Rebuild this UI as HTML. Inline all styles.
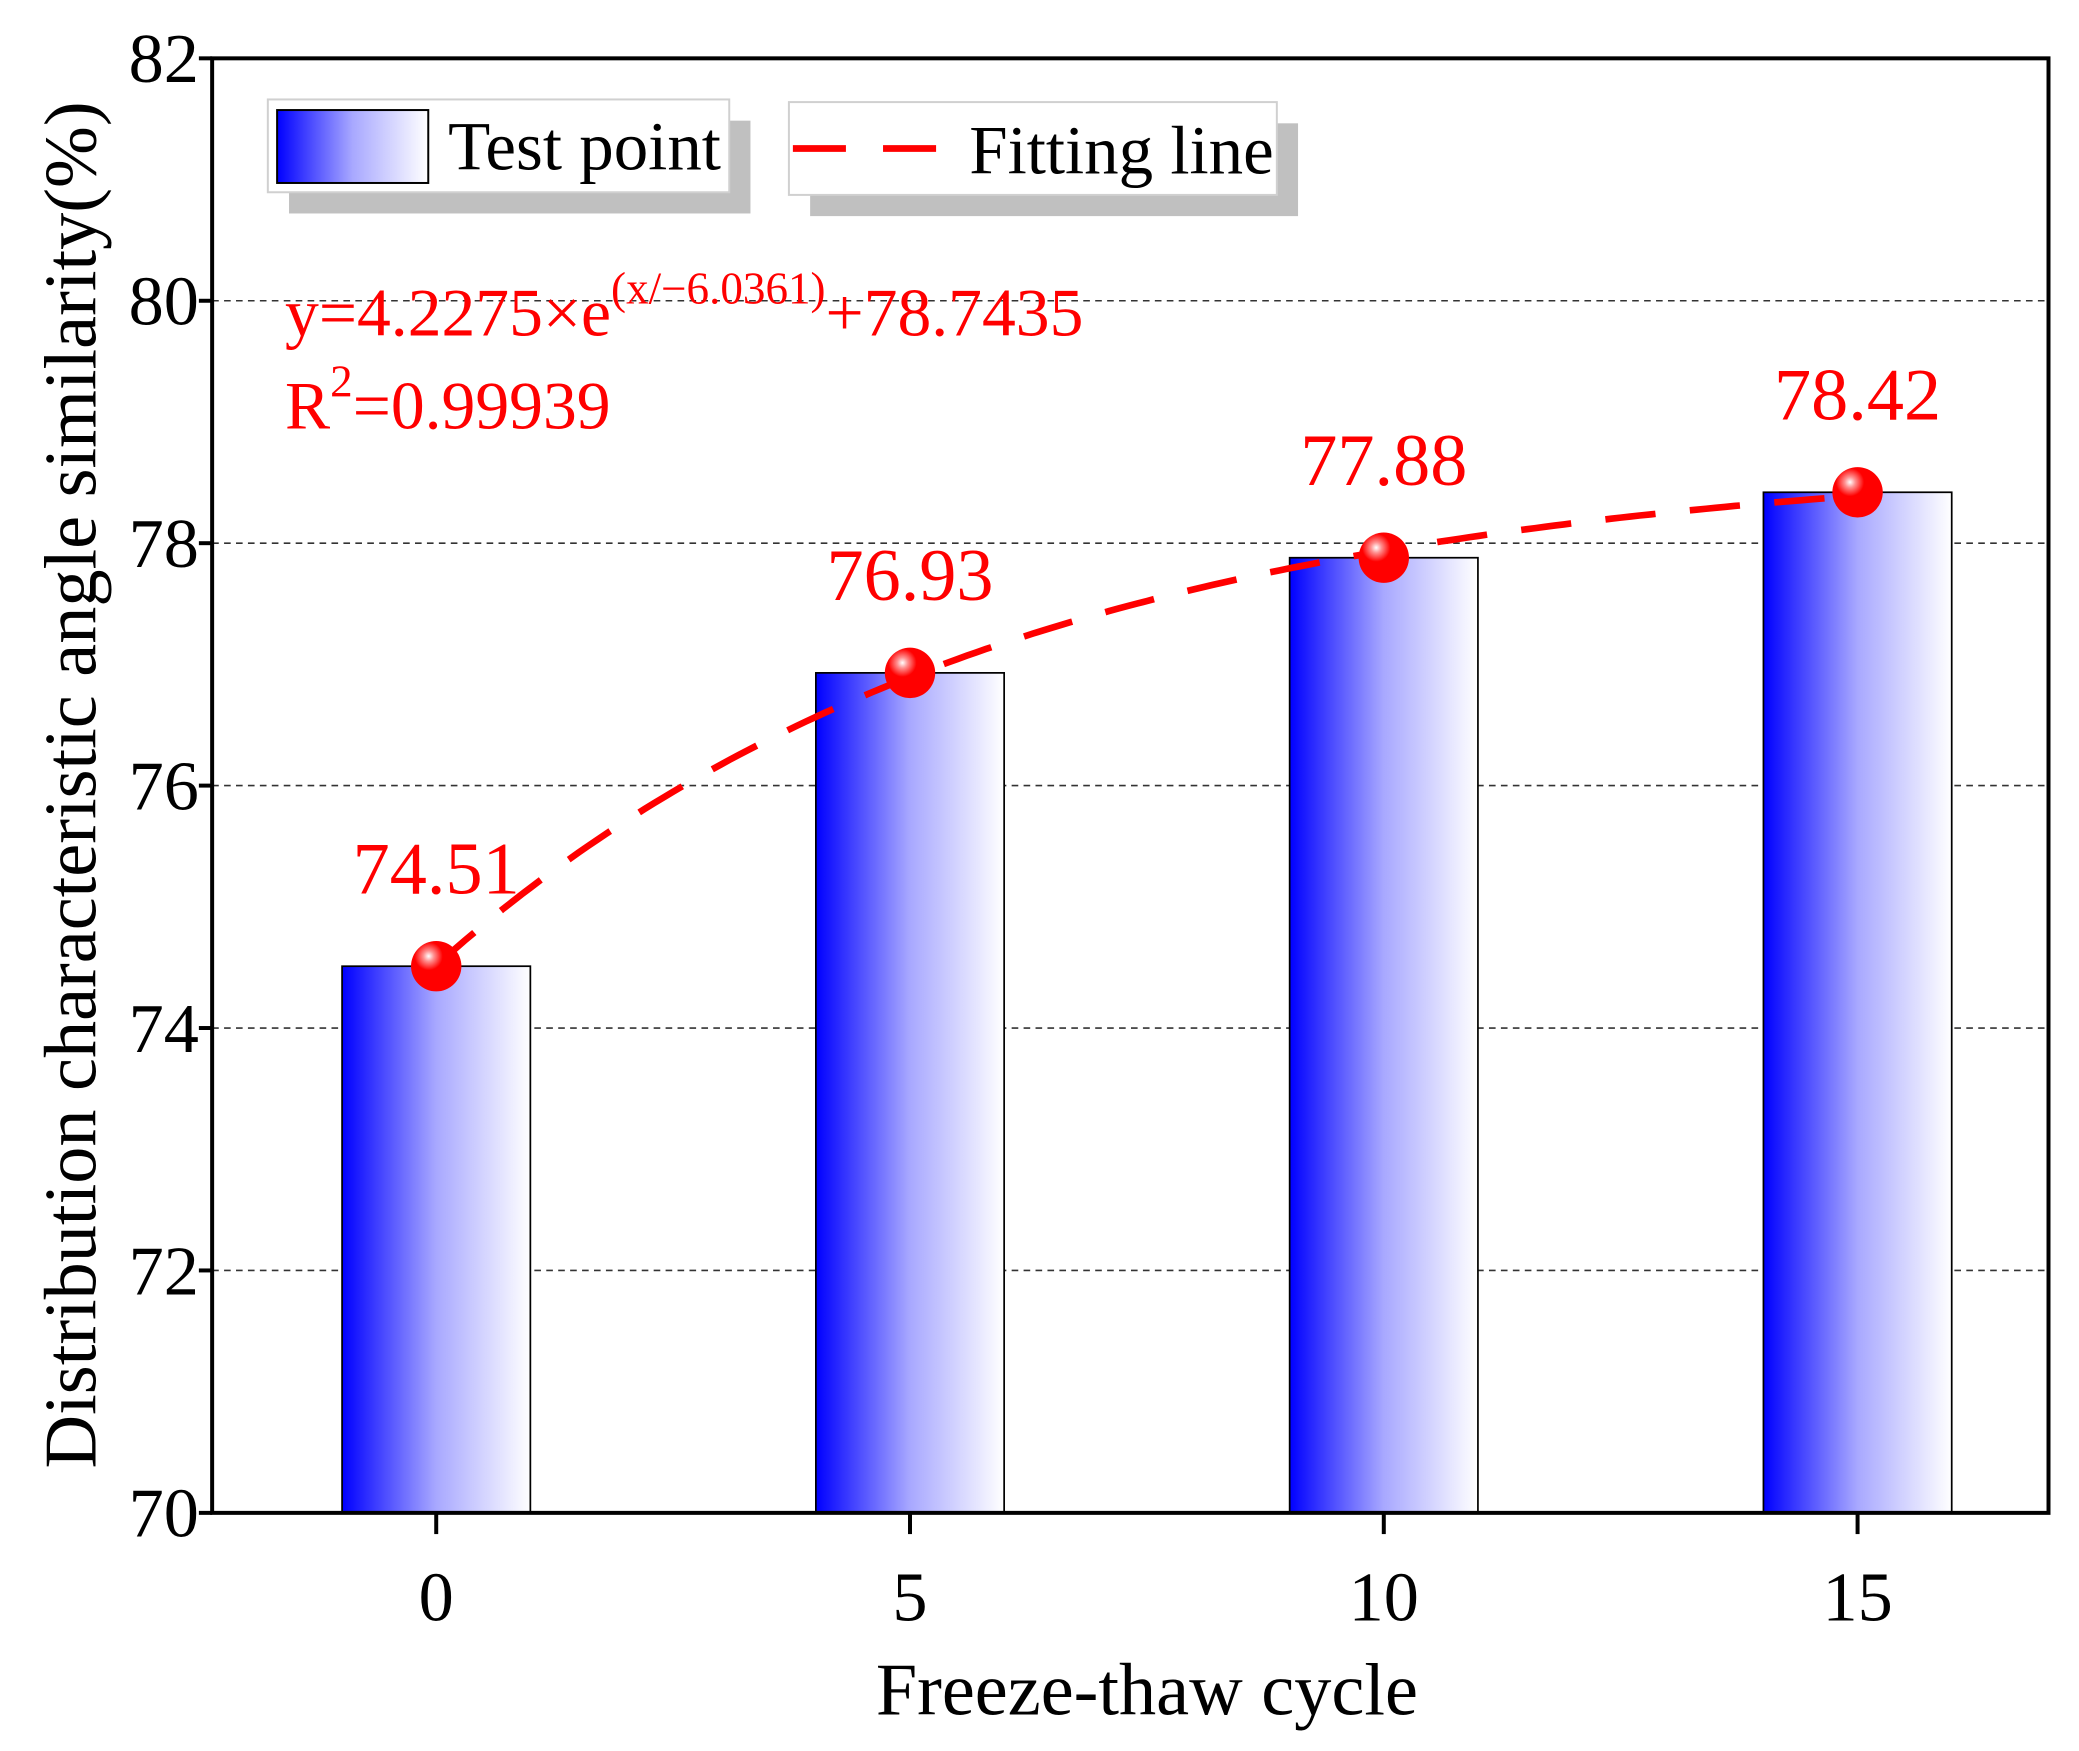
<!DOCTYPE html>
<html><head><meta charset="utf-8"><style>
html,body{margin:0;padding:0;background:#fff;}
svg{display:block;font-family:"Liberation Serif",serif;}
</style></head><body>
<svg id="chart" width="2079" height="1751" viewBox="0 0 1568 1320.6" preserveAspectRatio="none" xmlns="http://www.w3.org/2000/svg">
<defs>
<linearGradient id="barGrad" x1="0" y1="0" x2="1" y2="0">
<stop offset="0" stop-color="#0000ff"/><stop offset="0.5" stop-color="#a8a8ff"/><stop offset="1" stop-color="#ffffff"/>
</linearGradient>
<radialGradient id="ptGrad" cx="0.35" cy="0.3" r="0.7">
<stop offset="0" stop-color="#ffffff"/><stop offset="0.15" stop-color="#ff9090"/><stop offset="0.4" stop-color="#ff0000"/><stop offset="1" stop-color="#ff0000"/>
</radialGradient>
</defs>
<g id="grid"></g>
<g id="bars"></g>
<g id="fit"></g>
<g id="pts"></g>
<g id="labels"></g>
<rect x="160" y="44" width="1385" height="1097" fill="none" stroke="#000" stroke-width="3"/>
<g id="axes"></g>
<text x="865" y="1293" font-size="56" text-anchor="middle">Freeze-thaw cycle</text>
<text transform="translate(72,592) rotate(-90)" font-size="56" text-anchor="middle">Distribution characteristic angle similarity(%)</text>
<g fill="#ff0000">
<text x="215" y="253" font-size="51">y=4.2275×e<tspan font-size="34" dy="-24">(x/−6.0361)</tspan><tspan dy="24">+78.7435</tspan></text>
<text x="215" y="323" font-size="51">R<tspan font-size="34" dy="-24">2</tspan><tspan dy="24">=0.99939</tspan></text>
</g>
<g>
<rect x="218" y="91" width="348" height="70" fill="#c0c0c0"/>
<rect x="202" y="75" width="348" height="70" fill="#fff" stroke="#d0d0d0" stroke-width="1.5"/>
<rect x="209" y="83" width="114" height="55" fill="url(#barGrad)" stroke="#000" stroke-width="1.5"/>
<text x="338" y="128" font-size="52">Test point</text>
</g>
<g>
<rect x="611" y="93" width="368" height="70" fill="#c0c0c0"/>
<rect x="595" y="77" width="368" height="70" fill="#fff" stroke="#d0d0d0" stroke-width="1.5"/>
<line x1="598" y1="112" x2="720" y2="112" stroke="#ff0000" stroke-width="5" stroke-dasharray="40,28"/>
<text x="731" y="131" font-size="52">Fitting line</text>
</g>
<script>
const cycles=[0,5,10,15];
const values=[74.51,76.93,77.88,78.42];
const valueLabels=["74.51","76.93","77.88","78.42"];
const yTicks=[70,72,74,76,78,80,82];
const xTicks=[0,5,10,15];
const fitParams=[-4.2275,-6.0361,78.7435];
const NS="http://www.w3.org/2000/svg";
const X0=160,X1=1545,Y0=1141,Y1=44;
function xs(v){return 329+(v-0)*(1401-329)/15;}
function ys(v){return Y0-(v-70)*(Y0-Y1)/12;}
function mk(tag,attrs,parent){const e=document.createElementNS(NS,tag);for(const k in attrs)e.setAttribute(k,attrs[k]);parent.appendChild(e);return e;}
const grid=document.getElementById('grid'),bars=document.getElementById('bars'),fit=document.getElementById('fit'),pts=document.getElementById('pts'),labels=document.getElementById('labels'),axes=document.getElementById('axes');
yTicks.forEach(t=>{
 if(t>70&&t<82){const g=mk('line',{x1:X0,x2:X1,y1:ys(t),y2:ys(t),stroke:'#333',"stroke-width":1.2,"stroke-dasharray":"5,4"},grid);
 
 }
 const tk=mk('line',{x1:X0-10,x2:X0,y1:ys(t),y2:ys(t),stroke:'#000',"stroke-width":3},axes);
 
 
 const tl=mk('text',{x:150,y:ys(t)+18,"font-size":53,"text-anchor":"end"},axes);tl.textContent=t;
 
 
});
xTicks.forEach(t=>{
 const tk=mk('line',{x1:xs(t),x2:xs(t),y1:Y0,y2:Y0+16,stroke:'#000',"stroke-width":3},axes);
 
 
 const tl=mk('text',{x:xs(t),y:1222,"font-size":53,"text-anchor":"middle"},axes);tl.textContent=t;
 
 
});
cycles.forEach((c,i)=>{
 const b=mk('rect',{x:xs(c)-71,y:ys(values[i]),width:142,height:Y0-ys(values[i]),fill:'url(#barGrad)',stroke:'#000',"stroke-width":1.3},bars);
 
 
});
let d='';
for(let k=0;k<=150;k++){const x=k*0.1;const y=fitParams[0]*Math.exp(x/fitParams[1])+fitParams[2];d+=(k?'L':'M')+xs(x).toFixed(1)+','+ys(y).toFixed(1);}
const fl=mk('path',{d:d,fill:'none',stroke:'#ff0000',"stroke-width":5,"stroke-dasharray":"38,26"},fit);


cycles.forEach((c,i)=>{
 const p=mk('circle',{cx:xs(c),cy:ys(values[i]),r:19,fill:'url(#ptGrad)'},pts);
 
 
 const l=mk('text',{x:xs(c),y:ys(values[i])-55,"font-size":56,"text-anchor":"middle",fill:'#ff0000'},labels);l.textContent=valueLabels[i];
 
 
});
</script>
</svg>
</body></html>
